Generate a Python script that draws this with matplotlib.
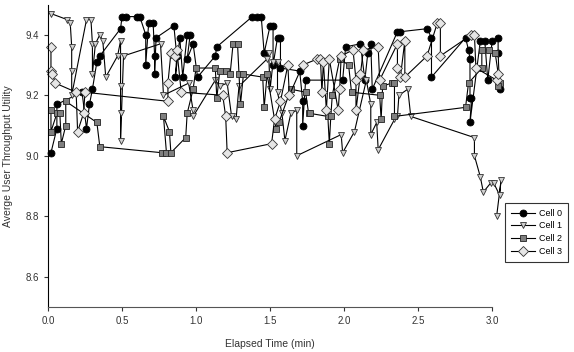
import matplotlib
matplotlib.use('Agg')
import matplotlib.pyplot as plt

plt.rcParams['font.family'] = ['Liberation Sans', 'DejaVu Sans']

# Cell 0 (black circles)
cell0_x = [0.02, 0.06, 0.06, 0.23, 0.26, 0.28, 0.30, 0.33, 0.35, 0.49, 0.50, 0.53,
           0.60, 0.62, 0.66, 0.66, 0.68, 0.71, 0.72, 0.72, 0.73, 0.85, 0.87, 0.86,
           0.89, 0.91, 0.94, 0.96, 0.94, 0.98, 1.01, 1.13, 1.14, 1.38, 1.41, 1.44,
           1.46, 1.50, 1.52, 1.52, 1.55, 1.57, 1.57, 1.70, 1.72, 1.72, 1.74, 1.99,
           2.01, 2.11, 2.14, 2.16, 2.18, 2.19, 2.36, 2.38, 2.56, 2.59, 2.59, 2.82,
           2.84, 2.85, 2.85, 2.86, 2.85, 2.92, 2.95, 2.97, 3.00, 3.04, 3.04, 3.05]
cell0_y = [9.01, 9.09, 9.17, 9.21, 9.09, 9.17, 9.22, 9.31, 9.33, 9.42, 9.46, 9.46,
           9.46, 9.46, 9.40, 9.30, 9.44, 9.44, 9.33, 9.27, 9.39, 9.43, 9.33, 9.26,
           9.39, 9.26, 9.40, 9.40, 9.32, 9.37, 9.26, 9.33, 9.36, 9.46, 9.46, 9.46,
           9.34, 9.43, 9.43, 9.30, 9.39, 9.39, 9.29, 9.28, 9.18, 9.10, 9.25, 9.25,
           9.36, 9.37, 9.25, 9.34, 9.37, 9.22, 9.41, 9.41, 9.42, 9.39, 9.26, 9.39,
           9.35, 9.32, 9.19, 9.19, 9.11, 9.38, 9.38, 9.25, 9.38, 9.39, 9.34, 9.22]

# Cell 1 (down triangles)
cell1_x = [0.02, 0.13, 0.15, 0.16, 0.16, 0.16, 0.26, 0.29, 0.30, 0.30, 0.32, 0.35,
           0.37, 0.39, 0.47, 0.49, 0.49, 0.49, 0.49, 0.51, 0.76, 0.78, 0.95, 0.98,
           0.98, 1.13, 1.16, 1.21, 1.24, 1.27, 1.29, 1.48, 1.49, 1.50, 1.52, 1.55,
           1.55, 1.58, 1.60, 1.64, 1.68, 1.68, 1.98, 1.99, 2.07, 2.15, 2.18, 2.18,
           2.22, 2.23, 2.34, 2.36, 2.37, 2.43, 2.45, 2.88, 2.88, 2.92, 2.94, 2.99,
           3.01, 3.05, 3.06, 3.03]
cell1_y = [9.47, 9.45, 9.44, 9.36, 9.28, 9.20, 9.45, 9.45, 9.37, 9.27, 9.37, 9.40,
           9.38, 9.26, 9.33, 9.38, 9.23, 9.14, 9.05, 9.33, 9.37, 9.20, 9.24, 9.15,
           9.13, 9.25, 9.23, 9.24, 9.13, 9.12, 9.23, 9.32, 9.34, 9.22, 9.31, 9.31,
           9.21, 9.14, 9.05, 9.14, 9.15, 9.00, 9.07, 9.01, 9.08, 9.25, 9.17, 9.07,
           9.11, 9.02, 9.12, 9.13, 9.20, 9.22, 9.13, 9.06, 9.00, 8.93, 8.88, 8.91,
           8.91, 8.87, 8.92, 8.80]

# Cell 2 (squares)
cell2_x = [0.02, 0.02, 0.06, 0.08, 0.09, 0.12, 0.12, 0.33, 0.35, 0.77, 0.80, 0.78,
           0.82, 0.83, 0.93, 0.94, 0.98, 1.00, 1.13, 1.14, 1.16, 1.20, 1.23, 1.25,
           1.28, 1.29, 1.30, 1.32, 1.45, 1.46, 1.48, 1.54, 1.56, 1.64, 1.74, 1.76,
           1.77, 1.89, 1.90, 1.91, 1.92, 1.97, 2.03, 2.05, 2.24, 2.25, 2.26, 2.32,
           2.34, 2.34, 2.82, 2.84, 2.93, 2.93, 2.98, 3.02, 3.05, 3.04]
cell2_y = [9.15, 9.08, 9.14, 9.14, 9.04, 9.10, 9.18, 9.11, 9.03, 9.01, 9.01, 9.13,
           9.08, 9.01, 9.06, 9.14, 9.22, 9.29, 9.29, 9.19, 9.28, 9.28, 9.27, 9.37,
           9.37, 9.27, 9.17, 9.27, 9.26, 9.16, 9.27, 9.09, 9.11, 9.22, 9.21, 9.14,
           9.14, 9.13, 9.04, 9.13, 9.20, 9.32, 9.30, 9.21, 9.20, 9.12, 9.23, 9.24,
           9.24, 9.13, 9.16, 9.24, 9.29, 9.35, 9.35, 9.34, 9.24, 9.23]

# Cell 3 (diamonds)
cell3_x = [0.02, 0.02, 0.03, 0.05, 0.19, 0.20, 0.24, 0.25, 0.81, 0.81, 0.83, 0.86,
           0.87, 0.90, 1.18, 1.20, 1.21, 1.51, 1.53, 1.57, 1.62, 1.63, 1.72, 1.82,
           1.84, 1.85, 1.86, 1.88, 1.90, 1.96, 1.97, 1.98, 2.06, 2.08, 2.08, 2.11,
           2.13, 2.23, 2.24, 2.36, 2.36, 2.38, 2.41, 2.41, 2.56, 2.63, 2.65, 2.65,
           2.86, 2.88, 2.89, 3.03, 3.04]
cell3_y = [9.36, 9.28, 9.27, 9.24, 9.21, 9.08, 9.14, 9.21, 9.18, 9.24, 9.34, 9.33,
           9.35, 9.21, 9.20, 9.13, 9.01, 9.04, 9.12, 9.18, 9.30, 9.20, 9.30, 9.32,
           9.32, 9.21, 9.31, 9.15, 9.32, 9.15, 9.22, 9.33, 9.35, 9.25, 9.15, 9.27,
           9.35, 9.36, 9.25, 9.37, 9.29, 9.26, 9.38, 9.26, 9.33, 9.44, 9.44, 9.33,
           9.40, 9.40, 9.29, 9.25, 9.27]

x_ticks = [0.0, 0.5, 1.0, 1.5, 2.0, 2.5, 3.0]
y_ticks = [8.6, 8.8, 9.0, 9.2, 9.4]

fig = plt.figure(figsize=(5.74, 3.52), dpi=100)
ax = fig.add_axes([48 / 574, 45 / 352, 459 / 574, 302.5 / 352])

line_kw = dict(color='black', linewidth=0.8, markersize=5, markeredgewidth=0.6, clip_on=False)
ax.plot(cell0_x, cell0_y, marker='o', markerfacecolor='black', markeredgecolor='black',
        label='Cell 0', **line_kw)
ax.plot(cell1_x, cell1_y, marker='v', markerfacecolor='#cfcfcf', markeredgecolor='#333333',
        label='Cell 1', **line_kw)
ax.plot(cell2_x, cell2_y, marker='s', markerfacecolor='#7f7f7f', markeredgecolor='#222222',
        label='Cell 2', **line_kw)
ax.plot(cell3_x, cell3_y, marker='D', markerfacecolor='#e6e6e6', markeredgecolor='#333333',
        label='Cell 3', **line_kw)

ax.set_xlim(0, 3.1)
ax.set_ylim(8.5, 9.5)
ax.set_xticks(x_ticks)
ax.set_yticks(y_ticks)
ax.set_xticklabels(['%.1f' % v for v in x_ticks])
ax.set_yticklabels(['%.1f' % v for v in y_ticks])
ax.tick_params(labelsize=7, colors='#333333', length=3, width=0.8)

ax.spines['top'].set_visible(False)
ax.spines['right'].set_visible(False)
ax.spines['bottom'].set_bounds(0, 3.0)
ax.spines['bottom'].set_color('#555555')
ax.spines['left'].set_color('black')

ax.set_xlabel('Elapsed Time (min)', fontsize=7.5, color='#333333')
ax.xaxis.set_label_coords(1.5 / 3.1, -0.105)
ax.set_ylabel('Averge User Throughput Utility', fontsize=7.5, color='#333333', labelpad=9)

leg = fig.legend(loc='upper right', bbox_to_anchor=(573 / 574, 1 - 198 / 352),
                 fontsize=6.5, frameon=True, fancybox=False, handlelength=2.6,
                 borderpad=0.7, labelspacing=0.4, handletextpad=0.5)
leg.get_frame().set_edgecolor('black')
leg.get_frame().set_linewidth(0.8)

fig.savefig('out.png', dpi=100)
